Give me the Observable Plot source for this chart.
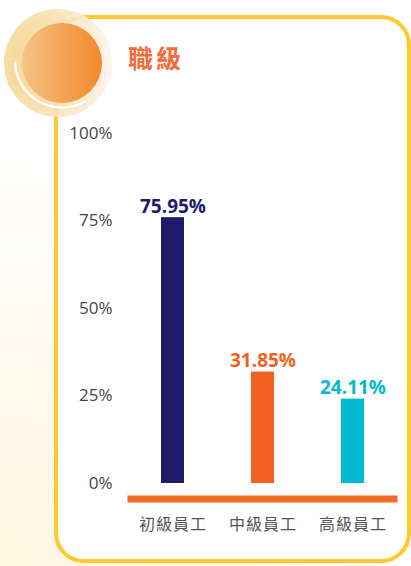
<!DOCTYPE html>
<html>
<head>
<meta charset="utf-8">
<script src="https://cdn.jsdelivr.net/npm/d3@7"></script>
<script src="https://cdn.jsdelivr.net/npm/@observablehq/plot@0.6"></script>
<style>
  html, body { margin: 0; padding: 0; background: #fff; }
  #wrap {
    position: relative; width: 411px; height: 566px; overflow: hidden;
    background: radial-gradient(circle at 0% 100%, #FFF6E0 0%, #FFFBF2 35%, #FFFFFF 60%);
    font-family: "Noto Sans CJK TC", "Noto Sans", sans-serif;
  }
  #frame {
    position: absolute; left: 54px; top: 15px; width: 357px; height: 548px;
    box-sizing: border-box; border: 4px solid #FFC92E; border-radius: 30px;
    background: #fff;
  }
  #halo {
    position: absolute; left: 4px; top: 9px; width: 108px; height: 108px; border-radius: 50%;
    background: radial-gradient(circle at 50% 50%, rgba(255,255,255,0) 60%, rgba(255,255,255,0.6) 100%),
                linear-gradient(90deg, #F6D48C 0%, #F8E2B8 55%, #FDF3EA 100%);
    opacity: 0.9;
  }
  #ball {
    position: absolute; left: 22px; top: 23px; width: 80px; height: 80px; border-radius: 50%;
    background: linear-gradient(90deg, #F4C485 0%, #F3A456 50%, #F48A2C 100%);
  }
  #arc { position: absolute; left: 0; top: 0; }
  #title {
    position: absolute; left: 128px; top: 42px; font-size: 25px; font-weight: bold;
    letter-spacing: 3px; color: #F26B3A; line-height: 1.2;
  }
  #chart { position: absolute; left: 0; top: 0; }
  #chart g[aria-label="x-axis tick label"] text { letter-spacing: 1px; }
</style>
</head>
<body>
<div id="wrap">
  <div id="frame"></div>
  <div id="halo"></div>
  <div id="ball"></div>
  <svg id="arc" width="120" height="120"><path d="M15,62 A47,47 0 0 0 86,101" fill="none" stroke="#fff" stroke-width="2.2"/></svg>
  <div id="title">職級</div>
  <div id="chart"></div>
</div>
<script>
const categories = ["初級員工", "中級員工", "高級員工"];
const values = [75.95, 31.85, 24.11];
const colors = ["#1F1A6B", "#F26122", "#00BBCF"];
const yTicks = [0, 25, 50, 75, 100];
const baselineColor = "#F26A25";

const data = categories.map((c, i) => ({category: c, value: values[i], color: colors[i]}));

const chart = Plot.plot({
  width: 411,
  height: 566,
  marginTop: 133,
  marginBottom: 83,
  marginLeft: 127.5,
  marginRight: 13.5,
  style: {background: "transparent"},
  x: {domain: categories, paddingInner: 0.744, paddingOuter: 0.372},
  y: {domain: [0, 100]},
  marks: [
    Plot.ruleY([-4.4], {stroke: baselineColor, strokeWidth: 7}),
    Plot.barY(data, {x: "category", y: "value", fill: "color"}),
    Plot.text(data, {
      x: "category", y: "value", text: d => d.value.toFixed(2) + "%",
      fill: "color", lineAnchor: "bottom", dy: -5,
      fontSize: 19, fontWeight: "bold", fontFamily: "Open Sans"
    }),
    Plot.axisY({ticks: yTicks, tickFormat: d => d + "%", tickSize: 0, tickPadding: 15.5,
      fontSize: 17, color: "#444", fontFamily: "Open Sans", label: null}),
    Plot.axisX({tickSize: 0, tickPadding: 35, fontSize: 16, color: "#555",
      fontFamily: "Noto Sans CJK TC", label: null})
  ]
});
document.getElementById("chart").appendChild(chart);
</script>
</body>
</html>
